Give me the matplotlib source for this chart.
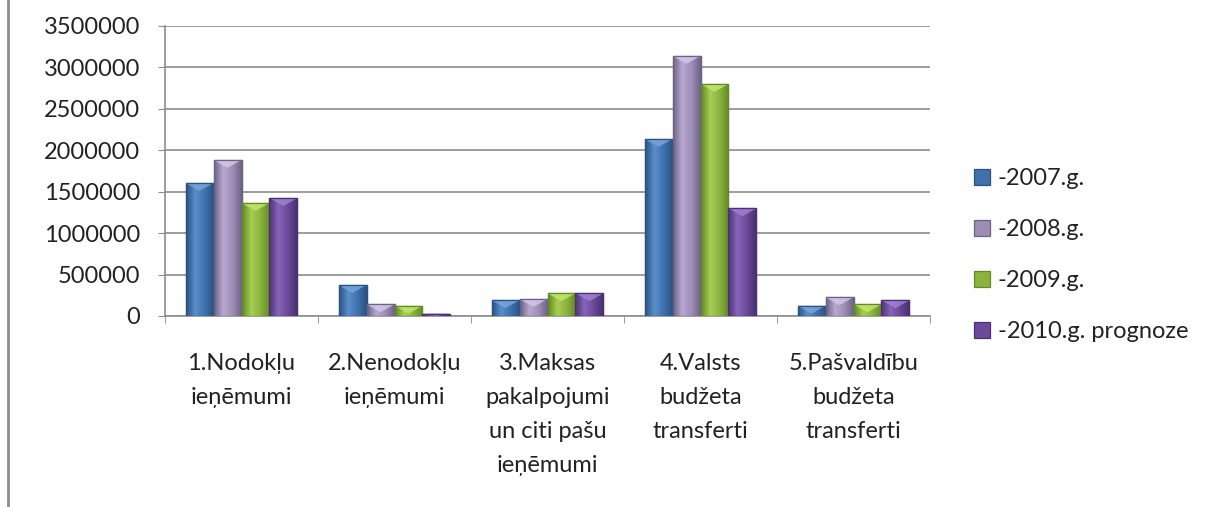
import numpy as np
import matplotlib
matplotlib.use("Agg")
from matplotlib import pyplot as plt
from matplotlib.lines import Line2D
from matplotlib.patches import Polygon
from matplotlib.colors import LinearSegmentedColormap

plt.rcParams['font.family'] = ['Lato', 'DejaVu Sans']

categories = ["1.Nodokļu\nieņēmumi", "2.Nenodokļu\nieņēmumi",
              "3.Maksas\npakalpojumi\nun citi pašu\nieņēmumi",
              "4.Valsts\nbudžeta\ntransferti", "5.Pašvaldību\nbudžeta\ntransferti"]
series_names = ["-2007.g.", "-2008.g.", "-2009.g.", "-2010.g. prognoze"]
v2007 = [1605000, 374000, 190000, 2136000, 124000]
v2008 = [1883000, 141000, 205000, 3138000, 226000]
v2009 = [1364000, 124000, 274000, 2800000, 141000]
v2010 = [1424000, 30000, 274000, 1300000, 190000]
colors = ["#3f72ad", "#9e8db5", "#8cb33f", "#6b4a9a"]
darks = ["#2a5282", "#6e6386", "#628a27", "#4a3172"]
lights = ["#5a8fcc", "#b9a9d2", "#a6cf52", "#8766bb"]
tops = ["#7aa6dc", "#d6c9ec", "#c2e86c", "#a482d6"]

fig = plt.figure(figsize=(12.23, 5.07), dpi=100)
ax = fig.add_axes([165/1223, 1-316/507, (930-165)/1223, 290/507])

x = np.arange(len(categories))
w = 0.183
grad = np.linspace(0, 1, 64).reshape(1, -1)
for i, vals in enumerate([v2007, v2008, v2009, v2010]):
    bars = ax.bar(x + (i - 1.5) * w, vals, w, color=colors[i], edgecolor=darks[i],
                  linewidth=0.9, label=series_names[i], zorder=3)
    cmap = LinearSegmentedColormap.from_list("g%d" % i, [darks[i], lights[i], colors[i], darks[i]])
    for b in bars:
        x0, h, bw = b.get_x(), b.get_height(), b.get_width()
        im = ax.imshow(grad, extent=[x0, x0 + bw, 0, h], aspect='auto', cmap=cmap,
                       zorder=3.1, interpolation='bilinear')
        im.set_clip_path(b)
        # light bevel triangle on top of each bar
        dh = min(h, 95000)
        ax.add_patch(Polygon([(x0, h), (x0 + bw, h), (x0 + bw / 2, h - dh)],
                             closed=True, facecolor=tops[i], edgecolor='none',
                             alpha=0.8, zorder=3.2))
        ax.add_patch(plt.Rectangle((x0, 0), bw, h, fill=False, edgecolor=darks[i],
                                   linewidth=0.9, zorder=3.3))

ax.set_xlim(-0.5, len(categories) - 0.5)
ax.set_ylim(0, 3500000)
ax.set_yticks(np.arange(0, 3500001, 500000))
ax.ticklabel_format(axis='y', style='plain', useOffset=False)
ax.yaxis.grid(True, color="#8c8c8c", linewidth=1.2, zorder=0)
ax.tick_params(axis='y', labelsize=17, length=5, color="#8c8c8c", pad=13,
               labelcolor="#222222")
ax.set_xticks(x)
ax.set_xticklabels(categories, fontsize=17, linespacing=1.75, color="#222222")
ax.tick_params(axis='x', length=0, pad=27)
ax.set_xticks(np.arange(-0.5, len(categories)), minor=True)
ax.tick_params(axis='x', which='minor', length=5, color="#8c8c8c")
for s in ['top', 'right']:
    ax.spines[s].set_visible(False)
for s in ['left', 'bottom']:
    ax.spines[s].set_color("#8c8c8c")
    ax.spines[s].set_linewidth(1.2)

fig.legend(loc='upper left', bbox_to_anchor=(953/1223, 1-147/507), frameon=False,
           fontsize=17, labelspacing=1.27, handlelength=0.65, handleheight=0.65,
           handletextpad=0.35, labelcolor="#222222")

fig.add_artist(Line2D([8/1223, 8/1223], [0, 1], color="#8c8c8c", linewidth=2))

fig.savefig("out.png", dpi=100)
